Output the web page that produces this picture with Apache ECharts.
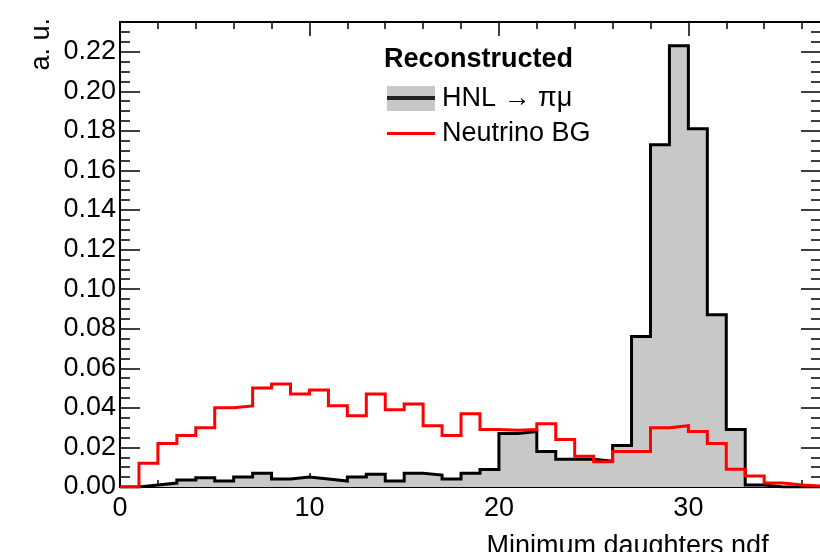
<!DOCTYPE html>
<html>
<head>
<meta charset="utf-8">
<script src="https://cdn.jsdelivr.net/npm/echarts@6/dist/echarts.min.js"></script>
<style>
  html, body { margin: 0; padding: 0; background: #fff; }
  #main { width: 820px; height: 552px; }
</style>
</head>
<body>
<div id="main"></div>
<script>
// bins are 1 unit wide, starting at 0
var binStart = 0;
var binWidth = 1;
var hnl = [0, 0.001, 0.002, 0.0035, 0.0047, 0.003, 0.005, 0.007, 0.004, 0.005,
           0.004, 0.003, 0.005, 0.0065, 0.003, 0.007, 0.006, 0.004, 0.007, 0.0088,
           0.027, 0.028, 0.018, 0.014, 0.014, 0.013, 0.021, 0.076, 0.173, 0.223,
           0.181, 0.087, 0.029, 0.001, 0, 0, 0];
var neutrino = [0, 0.012, 0.022, 0.026, 0.030, 0.040, 0.041, 0.050, 0.052, 0.047,
                0.049, 0.041, 0.036, 0.047, 0.039, 0.042, 0.031, 0.026, 0.037, 0.029,
                0.0287, 0.029, 0.032, 0.024, 0.0156, 0.0128, 0.018, 0.018, 0.030, 0.031,
                0.028, 0.022, 0.009, 0.0055, 0.002, 0.001, 0.0005];
var xMin = 0, xMax = 37;
var yMin = 0, yMax = 0.235;

// histogram outline: two points per bin (low edge, high edge)
function toSteps(vals) {
    var pts = [];
    vals.forEach(function (v, i) {
        var lo = binStart + i * binWidth;
        pts.push([lo, v]);
        pts.push([lo + binWidth, v]);
    });
    return pts;
}

function svgIcon(svg) {
    return 'image://data:image/svg+xml;charset=utf-8,' + encodeURIComponent(svg);
}
var hnlIcon = svgIcon("<svg xmlns='http://www.w3.org/2000/svg' width='48' height='25'>" +
    "<rect width='48' height='25' fill='#c8c8c8'/><rect y='10' width='48' height='4' fill='#222'/></svg>");
var bgIcon = svgIcon("<svg xmlns='http://www.w3.org/2000/svg' width='48' height='25'>" +
    "<rect y='11' width='48' height='3' fill='#ff0000'/></svg>");

var font = 'Liberation Sans';
var fs = 27;

function xAx(pos, interval, len, labels) {
    return {
        type: 'value', position: pos, min: xMin, max: xMax, interval: interval,
        axisLine: { show: true, onZero: false, lineStyle: { color: '#000', width: 2 } },
        axisTick: { show: true, inside: true, length: len, lineStyle: { color: '#000', width: 1.5 } },
        axisLabel: { show: labels, showMaxLabel: false, margin: 8, color: '#000',
                     fontFamily: font, fontSize: fs },
        splitLine: { show: false }
    };
}
function yAx(pos, interval, len, labels) {
    return {
        type: 'value', position: pos, min: yMin, max: yMax, interval: interval,
        axisLine: { show: true, onZero: false, lineStyle: { color: '#000', width: 2 } },
        axisTick: { show: true, inside: true, length: len, lineStyle: { color: '#000', width: 1.5 } },
        axisLabel: { show: labels, showMaxLabel: false, margin: 4, color: '#000',
                     fontFamily: font, fontSize: fs,
                     formatter: function (v) { return v.toFixed(2); } },
        splitLine: { show: false }
    };
}

var xMain = xAx('bottom', 10, 14, true);
xMain.name = 'Minimum daughters ndf';
xMain.nameLocation = 'middle';
xMain.nameGap = 46;
xMain.nameTextStyle = { color: '#000', fontFamily: font, fontSize: fs, align: 'left', padding: [0, 0, 0, 16] };

var myChart = echarts.init(document.getElementById('main'));
var option = {
    animation: false,
    backgroundColor: '#fff',
    grid: { left: 120, top: 22, width: 701, bottom: 65, containLabel: false, outerBoundsMode: 'none' },
    title: {
        text: 'Reconstructed', left: 379, top: 41,
        textStyle: { fontFamily: font, fontSize: fs, fontWeight: 'bold', color: '#000' }
    },
    legend: {
        orient: 'vertical', left: 382, top: 80,
        itemWidth: 48, itemHeight: 25, itemGap: 8,
        textStyle: { fontFamily: font, fontSize: fs, color: '#000', padding: [0, 0, 0, 2] },
        data: [
            { name: 'HNL \u2192 \u03c0\u03bc', icon: hnlIcon },
            { name: 'Neutrino BG', icon: bgIcon }
        ]
    },
    graphic: [{
        type: 'text', left: 28, top: 18, rotation: Math.PI / 2,
        style: { text: 'a. u.', fontFamily: font, fontSize: fs, fill: '#000' }
    }],
    xAxis: [xMain, xAx('bottom', 2, 7, false), xAx('top', 10, 14, false), xAx('top', 2, 7, false)],
    yAxis: [yAx('left', 0.02, 20, true), yAx('left', 0.005, 10, false),
            yAx('right', 0.02, 20, false), yAx('right', 0.005, 10, false)],
    series: [
        {
            name: 'HNL \u2192 \u03c0\u03bc', type: 'line',
            xAxisIndex: 0, yAxisIndex: 0, symbol: 'none',
            data: toSteps(hnl),
            lineStyle: { color: '#000', width: 3, join: 'miter' },
            itemStyle: { color: '#000' },
            areaStyle: { color: '#c8c8c8', opacity: 1 },
            z: 2
        },
        {
            name: 'Neutrino BG', type: 'line',
            xAxisIndex: 0, yAxisIndex: 0, symbol: 'none',
            data: toSteps(neutrino),
            lineStyle: { color: '#ff0000', width: 3, join: 'miter' },
            itemStyle: { color: '#ff0000' },
            z: 3
        }
    ]
};
myChart.setOption(option);
</script>
</body>
</html>
